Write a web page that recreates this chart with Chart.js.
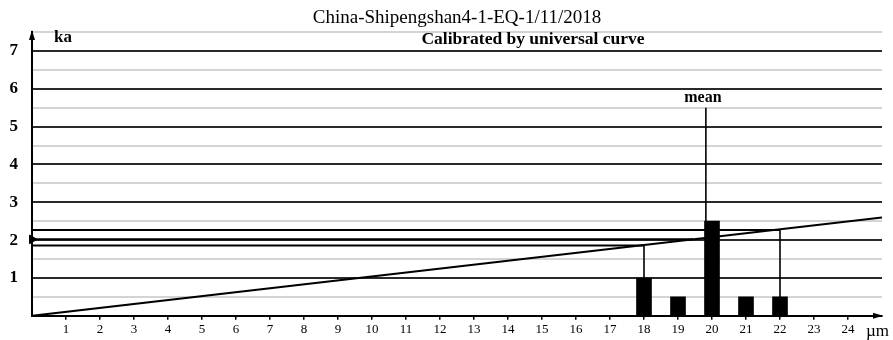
<!DOCTYPE html>
<html>
<head>
<meta charset="utf-8">
<script src="https://cdn.jsdelivr.net/npm/chart.js@4/dist/chart.umd.min.js"></script>
<style>
  html, body { margin: 0; padding: 0; background: #fff; }
  #wrap { width: 893px; height: 340px; }
</style>
</head>
<body>
<div id="wrap"><canvas id="chart" width="893" height="340"></canvas></div>
<script>
// Grain-size histogram (µm) and calibration against the universal curve (ka)
const sizes = [18, 19, 20, 21, 22];
const counts = [1, 0.5, 2.5, 0.5, 0.5];

// Universal calibration curve endpoints
const curveSize = [0, 25];
const curveAge = [0, 2.6];

// Mean size marker
const meanSize = 19.82;
const meanHeight = 5.5;

// Calibrated age band: lower / central / upper
const ageSizes = [18, 19.45, 22];
const ageValues = [1.86, 2.02, 2.27];
const ageBarTops = [1, null, 0.5];

const xTickLabels = ['', '1', '2', '3', '4', '5', '6', '7', '8', '9', '10', '11', '12',
  '13', '14', '15', '16', '17', '18', '19', '20', '21', '22', '23', '24', ''];
const yTickLabels = ['1', '2', '3', '4', '5', '6', '7'];

const titleText = 'China-Shipengshan4-1-EQ-1/11/2018';
const subtitleText = 'Calibrated by universal curve';

const SERIF = '"Liberation Serif", "Times New Roman", serif';

const lineDs = (data, width) => ({
  type: 'line', data, borderColor: '#000', borderWidth: width,
  pointRadius: 0, fill: false, tension: 0, order: 1
});

const datasets = [];
datasets.push({
  type: 'bar',
  data: sizes.map((s, i) => ({ x: s, y: counts[i] })),
  backgroundColor: '#000', borderWidth: 0, barThickness: 15, order: 2
});
datasets.push(lineDs(curveSize.map((s, i) => ({ x: s, y: curveAge[i] })), 2));
datasets.push(lineDs([{ x: meanSize, y: 0 }, { x: meanSize, y: meanHeight }], 1.6));
ageValues.forEach((a, i) => {
  datasets.push(lineDs([{ x: 0, y: a }, { x: ageSizes[i], y: a }], 2));
  if (ageBarTops[i] !== null) {
    datasets.push(lineDs([{ x: ageSizes[i], y: ageBarTops[i] }, { x: ageSizes[i], y: a }], 1.6));
  }
});
// Arrowhead pointing at the central age on the y axis
datasets.push({
  type: 'scatter', data: [{ x: 0, y: ageValues[1] }], pointStyle: 'triangle',
  rotation: 90, pointRadius: 5, backgroundColor: '#000', borderColor: '#000',
  clip: false, order: 0
});

const decorations = {
  id: 'decorations',
  afterDraw(chart) {
    const { ctx, chartArea, scales } = chart;
    const x = scales.x, y = scales.y;
    ctx.save();
    ctx.fillStyle = '#000';
    ctx.strokeStyle = '#000';

    // Axis arrowheads
    const ax = x.getPixelForValue(0), ay = y.getPixelForValue(0);
    ctx.beginPath();
    ctx.moveTo(ax, chartArea.top - 2);
    ctx.lineTo(ax - 3, chartArea.top + 8);
    ctx.lineTo(ax + 3, chartArea.top + 8);
    ctx.closePath();
    ctx.fill();
    ctx.beginPath();
    ctx.moveTo(chartArea.right + 1, ay);
    ctx.lineTo(chartArea.right - 9, ay - 3);
    ctx.lineTo(chartArea.right - 9, ay + 3);
    ctx.closePath();
    ctx.fill();

    // Titles
    ctx.textAlign = 'center';
    ctx.textBaseline = 'alphabetic';
    ctx.font = '19px ' + SERIF;
    ctx.fillText(titleText, 457, 23);
    ctx.font = 'bold 17.5px ' + SERIF;
    ctx.fillText(subtitleText, 533, 44);

    // Unit labels
    ctx.font = 'bold 17px ' + SERIF;
    ctx.textAlign = 'left';
    ctx.fillText('ka', 54, 42);
    ctx.font = '17px ' + SERIF;
    ctx.fillText('µm', 866, 336);

    // Mean label above its marker
    ctx.font = 'bold 16px ' + SERIF;
    ctx.textAlign = 'center';
    ctx.fillText('mean', x.getPixelForValue(meanSize) - 3, y.getPixelForValue(meanHeight) - 6);
    ctx.restore();
  }
};

new Chart(document.getElementById('chart'), {
  type: 'bar',
  data: { datasets },
  options: {
    responsive: false,
    devicePixelRatio: 1,
    animation: false,
    layout: { padding: { top: 32, right: 11, left: 0, bottom: 0 } },
    plugins: { legend: { display: false }, tooltip: { enabled: false }, title: { display: false } },
    scales: {
      x: {
        type: 'linear', min: 0, max: 25, offset: false,
        afterFit(scale) { scale.height = 24; },
        border: { display: true, color: '#000', width: 2 },
        grid: {
          offset: false, drawOnChartArea: false, drawTicks: true, tickLength: 4,
          color: (c) => (c.tick && (c.tick.value === 0 || c.tick.value === 25)) ? 'rgba(0,0,0,0)' : '#000',
          lineWidth: 1.5
        },
        ticks: {
          stepSize: 1, autoSkip: false, maxRotation: 0, padding: 2, color: '#000',
          font: { family: SERIF, size: 13 },
          callback: (v) => xTickLabels[v] ?? ''
        }
      },
      y: {
        type: 'linear', min: 0, max: 7.5,
        afterFit(scale) { scale.width = 32; },
        border: { display: true, color: '#000', width: 2 },
        grid: {
          drawTicks: false,
          color: (c) => {
            const v = c.tick ? c.tick.value : 0;
            if (v === 0) return 'rgba(0,0,0,0)';
            return Number.isInteger(v) ? '#2a2a2a' : '#d4d4d4';
          },
          lineWidth: 2
        },
        ticks: {
          stepSize: 0.5, autoSkip: false, padding: 14, color: '#000',
          font: { family: SERIF, size: 17, weight: 'bold' },
          callback: (v) => (Number.isInteger(v) && v > 0) ? yTickLabels[v - 1] : ''
        }
      }
    }
  },
  plugins: [decorations]
});
</script>
</body>
</html>
